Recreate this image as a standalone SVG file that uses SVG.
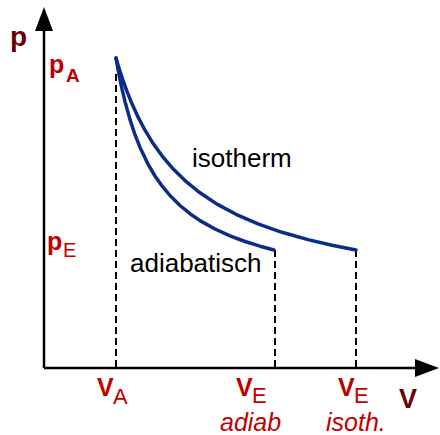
<svg xmlns="http://www.w3.org/2000/svg" width="440" height="435" viewBox="0 0 440 435">
<defs>
<style>
.axis{stroke:#000;stroke-width:2.5;fill:none}
.dash{stroke:#000;stroke-width:2;stroke-dasharray:7,4;fill:none}
.curve{stroke:#0a2e87;stroke-width:3.5;fill:none;stroke-linecap:round;stroke-linejoin:round}
.lbl{font-family:"Liberation Sans",Arial,sans-serif;font-weight:bold;fill:#c00000}
.sub{font-family:"Liberation Sans",Arial,sans-serif;fill:#c00000}
.ax{font-family:"Liberation Sans",Arial,sans-serif;font-weight:bold;fill:#6b0000}
.txt{font-family:"Liberation Sans",Arial,sans-serif;fill:#000;font-size:26px}
.it{font-family:"Liberation Sans",Arial,sans-serif;font-style:italic;fill:#c00000;font-size:25px}
</style>
</defs>
<g id="axes">
<line class="axis" x1="44" y1="368" x2="44" y2="28"/>
<polygon points="44,7 35,31 53,31" fill="#000"/>
<line class="axis" x1="44" y1="368" x2="418" y2="368"/>
<polygon points="439,368 415,359 415,377" fill="#000"/>
</g>
<g id="connectors">
<line class="dash" x1="116" y1="74" x2="116" y2="368"/>
<line class="dash" x1="275" y1="250" x2="275" y2="368"/>
<line class="dash" x1="356" y1="250" x2="356" y2="368"/>
</g>
<g id="isotherm">
<path class="curve" d="M116,58 L118,64.8 L120,71.3 L123,80.4 L127,91.4 L132,103.8 L138,116.9 L145,130.2 L153,143.3 L162,155.8 L172,167.7 L185,180.6 L200,192.8 L217,204.1 L236,214.3 L258,223.9 L282,232.3 L308,239.6 L332,245.3 L356,250"/>
<text class="txt" x="192" y="167">isotherm</text>
</g>
<g id="adiabate">
<path class="curve" d="M116,58 L118,69.3 L120,79.5 L122,88.9 L125,101.6 L130,119.6 L135,134.7 L140,147.4 L148,164.1 L155,176 L162,185.9 L170,195.5 L180,205.5 L190,213.7 L200,220.6 L215,229 L230,235.9 L245,241.5 L260,246.2 L274,250"/>
<text class="txt" x="130" y="272">adiabatisch</text>
</g>
<g id="labels">
<text class="ax" x="10" y="46" font-size="28">p</text>
<text class="ax" x="399" y="408" font-size="27">V</text>
<text class="lbl" x="49" y="73" font-size="25">p</text>
<text class="lbl" x="66" y="82" font-size="19">A</text>
<text class="lbl" x="47" y="250" font-size="25">p</text>
<text class="sub" x="63" y="257" font-size="20">E</text>
<text class="lbl" x="97" y="396" font-size="25">V</text>
<text class="sub" x="113" y="404" font-size="22">A</text>
<text class="lbl" x="236" y="396" font-size="25">V</text>
<text class="sub" x="252" y="403" font-size="22">E</text>
<text class="it" x="220" y="431">adiab</text>
<text class="lbl" x="338" y="396" font-size="25">V</text>
<text class="sub" x="354" y="403" font-size="22">E</text>
<text class="it" x="326" y="431">isoth.</text>
</g>
</svg>
